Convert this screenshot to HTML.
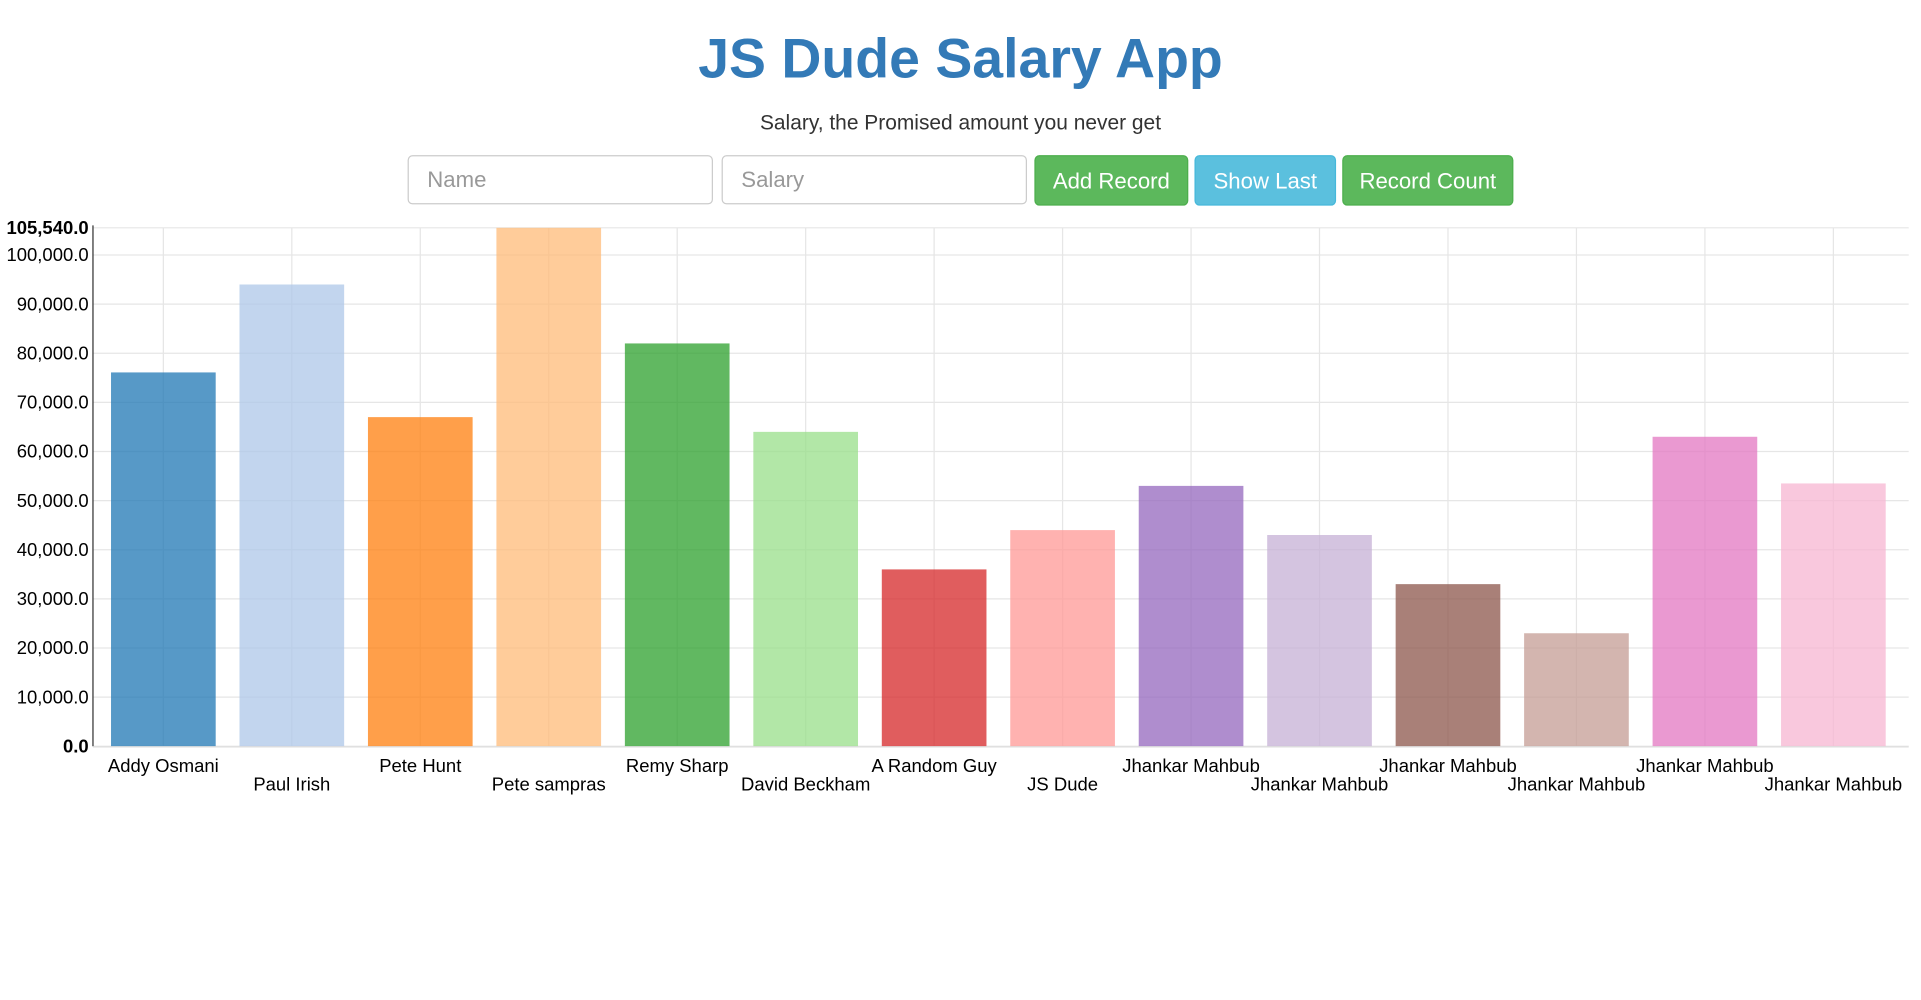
<!DOCTYPE html>
<html><head><meta charset="utf-8"><style>
html,body{margin:0;padding:0;background:#fff;width:1921px;height:999px;overflow:hidden}
#wrap{position:absolute;left:0;top:0;width:1560px;height:812px;transform:scale(1.23141);transform-origin:0 0;font-family:"Liberation Sans",Arial,sans-serif}
h1{position:absolute;left:0;width:1560px;top:22px;margin:0;text-align:center;font-size:45px;font-weight:bold;color:#337ab7}
.sub{position:absolute;left:0;width:1560px;top:90px;text-align:center;font-size:17px;color:#333}
.inp{position:absolute;top:126px;height:40px;width:248px;border:1px solid #ccc;border-radius:4px;box-sizing:border-box;padding-left:15px;line-height:38px;font-size:18px;color:#999}
.btn{position:absolute;top:126px;height:41px;box-sizing:border-box;border-radius:4px;color:#fff;font-size:18px;text-align:center;line-height:41px}
</style></head><body>
<div id="wrap">
<h1>JS Dude Salary App</h1>
<div class="sub">Salary, the Promised amount you never get</div>
<div class="inp" style="left:331px">Name</div>
<div class="inp" style="left:586px">Salary</div>
<div class="btn" style="left:840px;width:125px;background:#5cb85c;border:1px solid #4cae4c">Add Record</div>
<div class="btn" style="left:970px;width:115px;background:#5bc0de;border:1px solid #46b8da">Show Last</div>
<div class="btn" style="left:1090px;width:139px;background:#5cb85c;border:1px solid #4cae4c">Record Count</div>
<svg id="chart" style="position:absolute;left:0;top:0" width="1560" height="812"></svg>
</div>
<script>
const names=["Addy Osmani","Paul Irish","Pete Hunt","Pete sampras","Remy Sharp","David Beckham","A Random Guy","JS Dude","Jhankar Mahbub","Jhankar Mahbub","Jhankar Mahbub","Jhankar Mahbub","Jhankar Mahbub","Jhankar Mahbub"];
const salaries=[76100,94000,67000,105540,82000,64000,36000,44000,53000,43000,33000,23000,63000,53500];
const yTicks=[0,10000,20000,30000,40000,50000,60000,70000,80000,90000,100000];
const colors=["#1f77b4","#aec7e8","#ff7f0e","#ffbb78","#2ca02c","#98df8a","#d62728","#ff9896","#9467bd","#c5b0d5","#8c564b","#c49c94","#e377c2","#f7b6d2"];
const svg=document.getElementById('chart'),NS="http://www.w3.org/2000/svg";
const X0=75.5,XB=1541,X1=1550,Y0=606,Y1=185;
const maxV=Math.max(...salaries);
const y=v=>Y0-(v/maxV)*(Y0-Y1);
const band=(XB-X0-5)/names.length;
const xc=i=>X0+5+band*(i+0.5);
function mk(t,a){const e=document.createElementNS(NS,t);for(const k in a)e.setAttribute(k,a[k]);svg.appendChild(e);return e;}
const fmt=v=>v.toLocaleString('en-US',{minimumFractionDigits:1,maximumFractionDigits:1});
yTicks.concat([maxV]).forEach(v=>{
 const l=mk('line',{x1:X0,x2:X1,y1:y(v),y2:y(v),stroke:'#e6e6e6'});
 
 
 const t=mk('text',{x:72,y:y(v)+5,'text-anchor':'end','font-size':15,fill:'#000','font-weight':(v===0||v===maxV)?'bold':'normal'});
 t.textContent=fmt(v);
 
 
});
names.forEach((n,i)=>{
 const g=mk('line',{x1:xc(i),x2:xc(i),y1:Y1,y2:Y0,stroke:'#e6e6e6'});
 
 
});
names.forEach((n,i)=>{
 const r=mk('rect',{x:xc(i)-42.5,width:85,y:y(salaries[i]),height:Y0-y(salaries[i]),fill:colors[i%colors.length],'fill-opacity':0.75});
 
 
 const t=mk('text',{x:xc(i),y:i%2?642:627,'text-anchor':'middle','font-size':15,fill:'#000'});
 t.textContent=n;
 
 
});
const ax=mk('line',{x1:X0,x2:X0,y1:Y1-2,y2:Y0,stroke:'#333'});


const bx=mk('line',{x1:X0,x2:X1,y1:Y0+0.5,y2:Y0+0.5,stroke:'#ddd'});


</script>
</body></html>
